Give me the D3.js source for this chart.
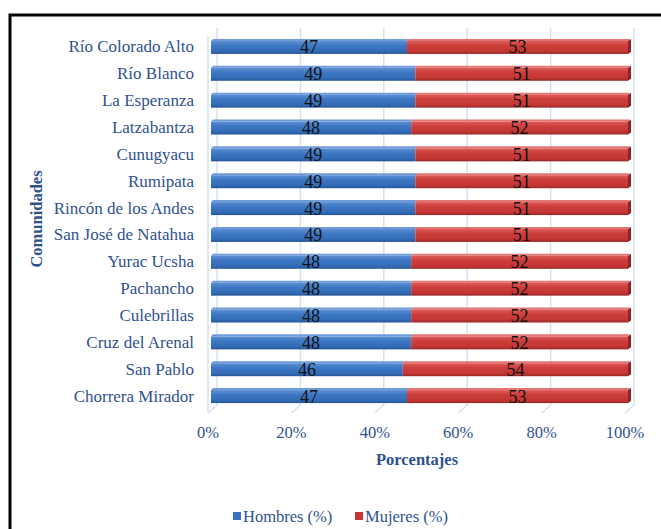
<!DOCTYPE html>
<html><head><meta charset="utf-8">
<script src="https://cdn.jsdelivr.net/npm/d3@7"></script>
<style>body{margin:0;background:#fff}svg{display:block}</style>
</head><body>
<svg id="c" width="661" height="529"></svg>
<script>
const categories = ["Río Colorado Alto","Río Blanco","La Esperanza","Latzabantza","Cunugyacu","Rumipata","Rincón de los Andes","San José de Natahua","Yurac Ucsha","Pachancho","Culebrillas","Cruz del Arenal","San Pablo","Chorrera Mirador"];
const hombres = [47,49,49,48,49,49,49,49,48,48,48,48,46,47];
const mujeres = [53,51,51,52,51,51,51,51,52,52,52,52,54,53];
const ticks = [0,20,40,60,80,100];
const seriesNames = ["Hombres (%)","Mujeres (%)"];

const svg = d3.select("#c");
const font = "Liberation Serif";
const txtCol = "#2F528F";
const depth = {dx:6, dy:-8};

// chart border
svg.append("rect").attr("x",10).attr("y",15).attr("width",700).attr("height",560)
  .attr("fill","none").attr("stroke","#000").attr("stroke-width",3);

const x = d3.scaleLinear().domain([0,100]).range([211,628]);
const y = d3.scaleBand().domain(categories).range([34,410]).paddingInner(0.5).paddingOuter(0.25);

const defs = svg.append("defs");
function grad(id, stops){
  const g = defs.append("linearGradient").attr("id",id).attr("x1",0).attr("y1",0).attr("x2",0).attr("y2",1);
  stops.forEach(s=>g.append("stop").attr("offset",s[0]).attr("stop-color",s[1]));
}
grad("gb",[[0,"#5E90D3"],[0.35,"#3E78C4"],[0.8,"#326BB5"],[1,"#255394"]]);
grad("gr",[[0,"#DD5C5A"],[0.35,"#CC3E3C"],[0.8,"#C23634"],[1,"#952725"]]);

// grid (back wall)
const wallTop = 28, wallBot = 405, frontBot = 413;
const g = svg.append("g");
ticks.forEach(t=>{
  const xb = x(t)+depth.dx;
  g.append("line").attr("x1",xb).attr("x2",xb).attr("y1",wallTop).attr("y2",wallBot)
    .attr("stroke","#D5E0F2").attr("stroke-width",1.5);
  g.append("line").attr("x1",xb).attr("x2",x(t)-3).attr("y1",wallBot).attr("y2",frontBot)
    .attr("stroke","#D5E0F2").attr("stroke-width",1.5);
});
g.append("line").attr("x1",x(0)-3).attr("x2",x(0)-3).attr("y1",wallTop+8).attr("y2",frontBot)
  .attr("stroke","#D5E0F2").attr("stroke-width",1.5);

// bars
const rows = categories.map((c,i)=>({c, h:hombres[i], m:mujeres[i]}));
const bh = 13;
rows.forEach(r=>{
  const cy = y(r.c)+y.bandwidth()/2;
  const yt = cy - bh/2;
  const segs = [
    {x0:0, x1:r.h, fill:"url(#gb)", top:"#6F9BD8", v:r.h},
    {x0:r.h, x1:r.h+r.m, fill:"url(#gr)", top:"#E27472", v:r.m}
  ];
  segs.forEach(s=>{
    svg.append("path").attr("d",`M${x(s.x0)},${yt} L${x(s.x0)+2},${yt-2} L${x(s.x1)+2},${yt-2} L${x(s.x1)},${yt} Z`)
      .attr("fill",s.top);
    svg.append("rect").attr("x",x(s.x0)).attr("y",yt).attr("width",x(s.x1)-x(s.x0)).attr("height",bh)
      .attr("fill",s.fill);
  });
  const xe = x(r.h+r.m);
  svg.append("path").attr("d",`M${xe},${yt} L${xe+3},${yt-2} L${xe+3},${yt+bh-2} L${xe},${yt+bh} Z`).attr("fill","#8E2524");
  segs.forEach(s=>{
    svg.append("text").attr("x",(x(s.x0)+x(s.x1))/2).attr("y",cy+6)
      .attr("text-anchor","middle").style("font-family",font).attr("font-size",18)
      .attr("fill","#111").text(s.v);
  });
});

// category labels
svg.append("g").selectAll("text").data(categories).join("text")
  .attr("x",194).attr("y",d=>y(d)+y.bandwidth()/2+5)
  .attr("text-anchor","end").style("font-family",font).attr("font-size",17)
  .attr("fill",txtCol).text(d=>d);

// x tick labels
svg.append("g").selectAll("text").data(ticks).join("text")
  .attr("x",d=>x(d)-3).attr("y",438)
  .attr("text-anchor","middle").style("font-family",font).attr("font-size",16.5)
  .attr("fill",txtCol).text(d=>d+"%");

// axis titles
svg.append("text").attr("x",417).attr("y",465).attr("text-anchor","middle")
  .style("font-family",font).attr("font-size",16.5).attr("font-weight","bold").attr("fill",txtCol).text("Porcentajes");
svg.append("text").attr("transform","translate(42,219) rotate(-90)").attr("text-anchor","middle")
  .style("font-family",font).attr("font-size",16.5).attr("font-weight","bold").attr("fill",txtCol).text("Comunidades");

// legend
const leg = svg.append("g");
const legX = [233, 355];
const legCol = ["#3A72BE","#C63634"];
seriesNames.forEach((n,i)=>{
  leg.append("rect").attr("x",legX[i]).attr("y",512).attr("width",8).attr("height",8).attr("fill",legCol[i]);
  leg.append("text").attr("x",legX[i]+10).attr("y",522).style("font-family",font).attr("font-size",16.5)
    .attr("fill",txtCol).text(n);
});
</script>
</body></html>
